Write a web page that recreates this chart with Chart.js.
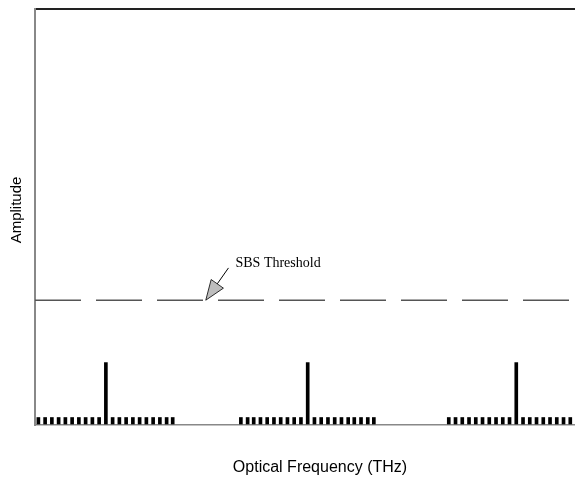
<!DOCTYPE html>
<html>
<head>
<meta charset="utf-8">
<title>SBS Threshold</title>
<script src="https://cdn.jsdelivr.net/npm/chart.js@4/dist/chart.umd.min.js"></script>
<style>
  html, body { margin: 0; padding: 0; background: #fff; }
  #wrap { width: 575px; height: 487px; position: relative; }
</style>
</head>
<body>
<div id="wrap"><canvas id="chart"></canvas></div>
<script>
// frequency positions of the small modulation lines (arbitrary units)
const combFreqs = [
  0.5, 1.5, 2.5, 3.5, 4.5, 5.5, 6.5, 7.5, 8.5, 9.5,
  11.5, 12.5, 13.5, 14.5, 15.5, 16.5, 17.5, 18.5, 19.5, 20.4,
  30.5, 31.5, 32.4, 33.4, 34.4, 35.4, 36.4, 37.4, 38.4, 39.4,
  41.4, 42.4, 43.4, 44.4, 45.4, 46.4, 47.3, 48.3, 49.3, 50.2,
  61.3, 62.3, 63.3, 64.3, 65.3, 66.3, 67.3, 68.3, 69.3, 70.3,
  72.3, 73.3, 74.3, 75.3, 76.3, 77.3, 78.3, 79.3
];
const combAmplitude = 1.8;

// carrier frequencies and amplitude
const carrierFreqs = [10.5, 40.4, 71.3];
const carrierAmplitude = 15;

// threshold level
const thresholdLevel = 30;
const thresholdSpan = [0, 80];

// annotation: arrow tip and label position (data units)
const arrowTip = { x: 25.3, y: 30 };
const labelPos = { x: 29.7, y: 38.0 };
const labelText = "SBS Threshold";

const xTitle = "Optical Frequency (THz)";
const yTitle = "Amplitude";

const combData = combFreqs.map(f => ({ x: f, y: combAmplitude }));
const carrierData = carrierFreqs.map(f => ({ x: f, y: carrierAmplitude }));
const thresholdData = thresholdSpan.map(f => ({ x: f, y: thresholdLevel }));

const annotationPlugin = {
  id: "annotations",
  afterDraw(chart) {
    const ctx = chart.ctx;
    const xs = chart.scales.x;
    const ys = chart.scales.y;

    // arrow
    const tx = xs.getPixelForValue(arrowTip.x);
    const ty = ys.getPixelForValue(arrowTip.y);
    const lx = xs.getPixelForValue(labelPos.x);
    const ly = ys.getPixelForValue(labelPos.y);
    const sx = lx - 7, sy = ly + 1;
    const ang = Math.atan2(ty - sy, tx - sx);
    const headLen = 20, headHalf = 7.5;
    const bx = tx - Math.cos(ang) * headLen;
    const by = ty - Math.sin(ang) * headLen;
    ctx.save();
    ctx.strokeStyle = "#000";
    ctx.lineWidth = 1;
    ctx.beginPath();
    ctx.moveTo(sx, sy);
    ctx.lineTo(bx, by);
    ctx.stroke();
    ctx.beginPath();
    ctx.moveTo(tx, ty);
    ctx.lineTo(bx + Math.sin(ang) * headHalf, by - Math.cos(ang) * headHalf);
    ctx.lineTo(bx - Math.sin(ang) * headHalf, by + Math.cos(ang) * headHalf);
    ctx.closePath();
    ctx.fillStyle = "#bdbdbd";
    ctx.fill();
    ctx.lineWidth = 0.8;
    ctx.stroke();

    // label
    ctx.fillStyle = "#000";
    ctx.font = "14px 'Liberation Serif', 'Times New Roman', serif";
    ctx.textAlign = "left";
    ctx.textBaseline = "alphabetic";
    ctx.fillText(labelText, lx, ly);

    // axis titles
    ctx.font = "16px 'Liberation Sans', Arial, sans-serif";
    ctx.textAlign = "center";
    ctx.textBaseline = "middle";
    ctx.fillText(xTitle, 320, 468);
    ctx.translate(17, 210);
    ctx.rotate(-Math.PI / 2);
    ctx.font = "15px 'Liberation Sans', Arial, sans-serif";
    ctx.fillText(yTitle, 0, 0);
    ctx.restore();
  }
};

new Chart(document.getElementById("chart"), {
  type: "bar",
  data: {
    datasets: [
      {
        type: "line",
        data: thresholdData,
        borderColor: "#555",
        borderWidth: 1.5,
        borderDash: [46, 15],
        pointRadius: 0,
        fill: false
      },
      {
        data: carrierData,
        backgroundColor: "#000",
        barThickness: 3,
        grouped: false
      },
      {
        data: combData,
        backgroundColor: "#000",
        barThickness: 3,
        grouped: false
      }
    ]
  },
  options: {
    responsive: true,
    maintainAspectRatio: false,
    animation: false,
    layout: { padding: { top: 9, right: 0, left: 0, bottom: 0 } },
    plugins: {
      legend: { display: false },
      tooltip: { enabled: false }
    },
    scales: {
      x: {
        type: "linear",
        min: 0,
        max: 80,
        offset: false,
        grid: { display: false },
        ticks: { display: false },
        border: { color: "#888", width: 1.5 },
        afterFit(scale) { scale.height = 62; }
      },
      y: {
        min: 0,
        max: 100,
        ticks: { display: false, stepSize: 100 },
        grid: {
          drawTicks: false,
          lineWidth: 2,
          color: (c) => (c.tick && c.tick.value === 100 ? "#222" : "rgba(0,0,0,0)")
        },
        border: { color: "#888", width: 2 },
        afterFit(scale) { scale.width = 35; }
      }
    }
  },
  plugins: [annotationPlugin]
});
</script>
</body>
</html>
